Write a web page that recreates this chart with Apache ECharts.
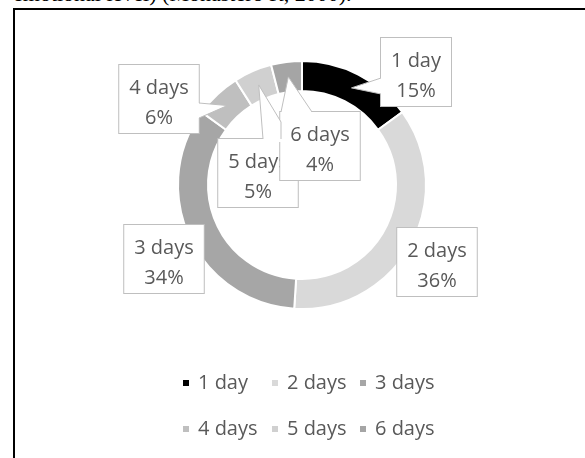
<!DOCTYPE html>
<html>
<head>
<meta charset="utf-8">
<script src="https://cdn.jsdelivr.net/npm/echarts@6/dist/echarts.min.js"></script>
<style>
html, body { margin: 0; padding: 0; background: #fff; }
body { width: 585px; height: 458px; position: relative; overflow: hidden; }
#head {
    position: absolute; left: 13px; top: -17px;
    font-family: "Liberation Serif", serif; font-size: 22px; line-height: 22px;
    white-space: nowrap; color: #000;
}
#frame {
    position: absolute; left: 13px; top: 8px; width: 620px; height: 520px;
    border-left: 2px solid #000; border-top: 2px solid #000;
}
#chart { position: absolute; left: 0; top: 0; width: 585px; height: 458px; }
</style>
</head>
<body>
<div id="head">emotional level) (Monastero R, 2000).</div>
<div id="frame"></div>
<div id="chart"></div>
<script>
var names = ['1 day', '2 days', '3 days', '4 days', '5 days', '6 days'];
var values = [15, 36, 34, 6, 5, 4];
var colors = ['#000000', '#d9d9d9', '#a6a6a6', '#bfbfbf', '#d0d0d0', '#a5a5a5'];

// label boxes: centre x, top y
var boxPos = [[416, 38], [437, 228], [164, 225], [159, 65], [258, 139], [320, 112]];
// callout wedge: points on the box before / after the tip, and which way is "into the box"
var wedges = [
    { before: [[381, 78]], after: [[381, 94]], inward: [3, 0] },
    null, null,
    { before: [[199, 103]], after: [[199, 118]], inward: [-3, 0] },
    { before: [[263, 139]], after: [[281, 122], [281, 139]], inward: [0, 3] },
    { before: [[281, 112]], after: [[312, 112]], inward: [0, 3] }
];
var legendPos = [[181, 373], [270, 373], [358, 373], [181, 419], [270, 419], [358, 419]];

var cx = 302, cy = 185, rIn = 94, rOut = 124;
var total = values.reduce(function (a, b) { return a + b; }, 0);

// tip of the callout: middle of the ring, middle of the slice
function tipOf(i) {
    var before = 0;
    for (var j = 0; j < i; j++) before += values[j];
    var a = (before + values[i] / 2) / total * 2 * Math.PI;
    var r = (rIn + rOut) / 2;
    return [cx + r * Math.sin(a), cy - r * Math.cos(a)];
}

// white filled wedge with grey sides, drawn over the ring and the box edge
var callouts = [];
wedges.forEach(function (w, i) {
    if (!w) return;
    var line = w.before.concat([tipOf(i)], w.after);
    var first = line[0], last = line[line.length - 1];
    var fill = [[first[0] + w.inward[0], first[1] + w.inward[1]]]
        .concat(line, [[last[0] + w.inward[0], last[1] + w.inward[1]]]);
    callouts.push({
        type: 'polygon', z: 100, silent: true,
        shape: { points: fill },
        style: { fill: '#fff' }
    });
    callouts.push({
        type: 'polyline', z: 101, silent: true,
        shape: { points: line },
        style: { stroke: '#bfbfbf', lineWidth: 1, fill: null }
    });
});

var myChart = echarts.init(document.getElementById('chart'));

var option = {
    animation: false,
    color: colors,
    legend: names.map(function (n, i) {
        return {
            data: [n],
            left: legendPos[i][0],
            top: legendPos[i][1],
            padding: 0,
            icon: 'rect',
            itemWidth: 8,
            itemHeight: 8,
            selectedMode: false,
            textStyle: {
                color: '#595959',
                fontFamily: 'Open Sans',
                fontSize: 20,
                lineHeight: 20,
                padding: [0, 0, 0, 3]
            }
        };
    }),
    graphic: callouts,
    series: [
        {
            type: 'pie',
            center: [cx, cy],
            radius: [rIn, rOut],
            startAngle: 90,
            clockwise: true,
            avoidLabelOverlap: false,
            emphasis: { disabled: true },
            itemStyle: { borderColor: '#fff', borderWidth: 2 },
            label: {
                formatter: '{b}\n{d}%',
                color: '#595959',
                fontFamily: 'Open Sans',
                fontSize: 20,
                lineHeight: 30,
                backgroundColor: '#fff',
                borderColor: '#bfbfbf',
                borderWidth: 1,
                padding: [8, 10, 0, 10]
            },
            labelLine: { show: false },
            labelLayout: function (p) {
                var i = p.dataIndex;
                return { x: boxPos[i][0], y: boxPos[i][1], align: 'center', verticalAlign: 'top' };
            },
            data: names.map(function (n, i) {
                return { name: n, value: values[i] };
            })
        }
    ]
};

option && myChart.setOption(option);
</script>
</body>
</html>
